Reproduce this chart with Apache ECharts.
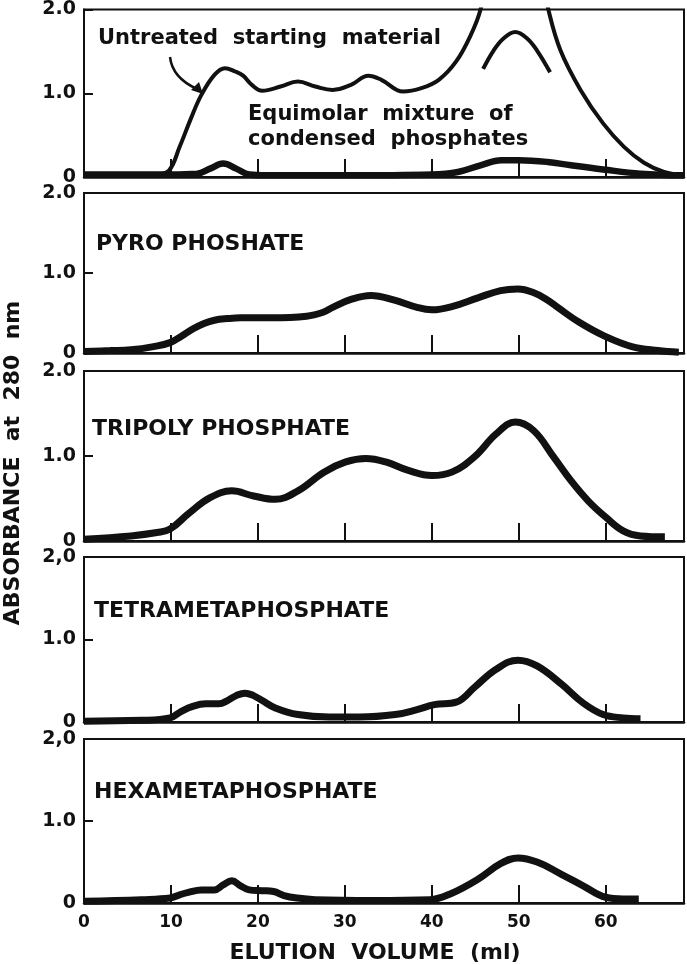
<!DOCTYPE html>
<html>
<head>
<meta charset="utf-8">
<script src="https://cdn.jsdelivr.net/npm/echarts@6/dist/echarts.min.js"></script>
<style>
  html, body { margin: 0; padding: 0; background: #fff; }
  #chart { width: 687px; height: 965px; }
</style>
</head>
<body>
<div id="chart"></div>
<script>
// Gel-filtration elution profiles (absorbance at 280 nm vs elution volume)

const VOL_MAX = 69;
const volTicks = [0, 10, 20, 30, 40, 50, 60];
const absTicksDot = ['0', '1.0', '2.0'];
const absTicksComma = ['0', '1.0', '2,0'];

// panel 1 — untreated starting material (goes off scale around 50 ml)
const untreatedVol = [0, 5, 8.5, 9.8, 11, 12.3, 13.5, 15, 16.2, 17.4, 18.3, 19.3, 20.5, 22.6, 24.6, 26.6, 28.6, 30.7, 32.7, 34.2, 36.7, 38.8, 40.8, 42.8, 44.5, 45.6, 47.5, 49.6, 51.5, 53.4, 54.8, 57.1, 59.7, 62.1, 64.4, 66.7, 69];
const untreatedAbs = [0.02, 0.02, 0.03, 0.08, 0.36, 0.70, 0.98, 1.22, 1.30, 1.26, 1.21, 1.10, 1.03, 1.08, 1.14, 1.08, 1.04, 1.10, 1.21, 1.16, 1.02, 1.06, 1.16, 1.38, 1.70, 2.0, 2.9, 3.4, 2.9, 2.0, 1.51, 1.04, 0.64, 0.36, 0.17, 0.06, 0.02];
// off-scale peak top redrawn inside the panel
const peakTopVol = [45.9, 47.1, 48.3, 49.6, 50.9, 52.1, 53.6];
const peakTopAbs = [1.29, 1.51, 1.66, 1.73, 1.66, 1.51, 1.25];
// panel 1 — equimolar mixture of condensed phosphates
const mixVol = [0, 5, 10, 13, 14.5, 16, 17.5, 19, 21, 30, 40, 43, 45.6, 48, 50, 53.3, 56, 59.7, 64, 69];
const mixAbs = [0.03, 0.03, 0.03, 0.04, 0.10, 0.16, 0.10, 0.03, 0.02, 0.02, 0.03, 0.06, 0.14, 0.20, 0.20, 0.18, 0.14, 0.09, 0.04, 0.02];

const pyroVol = [0, 3, 5.4, 8, 9.9, 11.2, 12.5, 13.8, 15, 16.5, 18, 21.5, 25.6, 27.5, 28.6, 30.7, 33, 35.7, 38.3, 40, 42.3, 45.3, 47.9, 49.9, 51.6, 53.2, 54.6, 57, 59.7, 63, 66, 68.4];
const pyroAbs = [0.02, 0.03, 0.04, 0.08, 0.13, 0.21, 0.30, 0.37, 0.41, 0.43, 0.44, 0.44, 0.46, 0.51, 0.57, 0.67, 0.72, 0.66, 0.57, 0.54, 0.58, 0.69, 0.78, 0.80, 0.76, 0.67, 0.56, 0.38, 0.22, 0.08, 0.03, 0.01];

const tripolyVol = [0, 5.4, 8.4, 9.9, 12, 14.5, 17, 19.5, 22, 24.6, 27.6, 30.1, 32.4, 34.7, 37.3, 40, 42.3, 44.9, 47.4, 49.6, 51.7, 54, 56, 58, 60, 62, 64, 66.8];
const tripolyAbs = [0.02, 0.06, 0.10, 0.14, 0.32, 0.51, 0.59, 0.53, 0.49, 0.59, 0.81, 0.93, 0.97, 0.93, 0.83, 0.77, 0.81, 0.99, 1.26, 1.40, 1.30, 0.99, 0.71, 0.47, 0.28, 0.12, 0.06, 0.05];

const tetraVol = [0, 6.6, 9.9, 11.2, 12.5, 14, 15.5, 16.5, 17.5, 18.5, 19.5, 20.5, 22, 24.6, 28.2, 31.7, 35.8, 38.3, 40.3, 42.8, 44.9, 47.4, 49.9, 52.1, 54.9, 57.4, 59.7, 62, 64];
const tetraAbs = [0.01, 0.02, 0.05, 0.13, 0.19, 0.22, 0.22, 0.26, 0.32, 0.35, 0.32, 0.26, 0.17, 0.09, 0.06, 0.06, 0.09, 0.15, 0.21, 0.24, 0.42, 0.64, 0.75, 0.68, 0.46, 0.23, 0.09, 0.05, 0.04];

const hexaVol = [0, 6.6, 9.9, 11, 12, 13.5, 15, 16, 17, 18, 19, 20.5, 21.8, 23, 24.5, 26.6, 33.2, 39.8, 42.3, 45.3, 47.9, 49.9, 52.1, 54.9, 57.4, 60, 62, 63.8];
const hexaAbs = [0.02, 0.04, 0.06, 0.10, 0.13, 0.16, 0.16, 0.22, 0.27, 0.21, 0.16, 0.15, 0.14, 0.09, 0.06, 0.04, 0.03, 0.04, 0.12, 0.29, 0.48, 0.55, 0.50, 0.35, 0.21, 0.07, 0.05, 0.05];

const FONT = '"DejaVu Sans", sans-serif';
const INK = '#111';

const zip = (xs, ys) => xs.map((x, i) => [x, ys[i]]);

// pixel boxes of the five stacked panels
const PANELS = [
  { top: 9,   height: 168, ticks: absTicksDot },
  { top: 193, height: 160, ticks: absTicksDot },
  { top: 371, height: 170, ticks: absTicksDot },
  { top: 557, height: 165, ticks: absTicksComma },
  { top: 739, height: 166, ticks: absTicksComma },
];

const grid = PANELS.map(p => ({
  left: 84, right: 3, top: p.top, height: p.height,
  show: true, borderColor: INK, borderWidth: 2, backgroundColor: 'transparent',
}));

const xAxis = PANELS.map((p, i) => {
  const last = i === PANELS.length - 1;
  return {
    gridIndex: i, type: 'value', min: 0, max: VOL_MAX, interval: 10,
    splitLine: { show: false },
    axisLine: { lineStyle: { color: INK, width: 2.5 } },
    axisTick: { inside: true, length: 18, lineStyle: { color: INK, width: 2 } },
    axisLabel: {
      show: last, margin: 11, color: INK, fontFamily: FONT, fontWeight: 'bold', fontSize: 17,
      showMaxLabel: false,
      formatter: v => (volTicks.includes(v) ? String(v) : ''),
    },
    name: last ? 'ELUTION  VOLUME  (ml)' : '',
    nameLocation: 'middle', nameGap: 39,
    nameTextStyle: { color: INK, fontFamily: FONT, fontWeight: 'bold', fontSize: 22, padding: [0, 18, 0, 0] },
  };
});

const yAxis = PANELS.map((p, i) => ({
  gridIndex: i, type: 'value', min: 0, max: 2, interval: 1,
  splitLine: { show: false },
  axisLine: { show: true, lineStyle: { color: INK, width: 2 } },
  axisTick: { show: true, inside: true, length: 9, lineStyle: { color: INK, width: 2 } },
  axisLabel: {
    margin: 8, color: INK, fontFamily: FONT, fontWeight: 'bold', fontSize: 19,
    padding: [6, 0, 0, 0],
    formatter: v => p.ticks[Math.round(v)],
  },
}));

function curve(idx, vol, abs, width) {
  return {
    type: 'line', xAxisIndex: idx, yAxisIndex: idx, data: zip(vol, abs),
    smooth: 0.4, symbol: 'none', clip: true, silent: true,
    lineStyle: { color: INK, width: width },
  };
}

const series = [
  curve(0, untreatedVol, untreatedAbs, 4),
  curve(0, peakTopVol, peakTopAbs, 4),
  curve(0, mixVol, mixAbs, 6.5),
  curve(1, pyroVol, pyroAbs, 7),
  curve(2, tripolyVol, tripolyAbs, 7),
  curve(3, tetraVol, tetraAbs, 7),
  curve(4, hexaVol, hexaAbs, 7),
];

const txt = (text, x, y, size, extra) => ({
  type: 'text', x: x, y: y, silent: true,
  style: Object.assign({
    text: text, fill: INK, font: 'bold ' + size + 'px ' + FONT,
    textAlign: 'left', textVerticalAlign: 'middle',
  }, extra || {}),
});

const graphic = [
  txt('Untreated  starting  material', 98, 38.5, 21),
  txt('Equimolar  mixture  of', 248, 114.5, 21),
  txt('condensed  phosphates', 248, 140, 21),
  txt('PYRO PHOSHATE', 96, 244.5, 22),
  txt('TRIPOLY PHOSPHATE', 92, 429, 22),
  txt('TETRAMETAPHOSPHATE', 94, 611, 22),
  txt('HEXAMETAPHOSPHATE', 94, 792, 22),
  {
    type: 'text', x: 13, y: 463, rotation: Math.PI / 2, silent: true,
    style: { text: 'ABSORBANCE  at  280  nm', fill: INK, font: 'bold 22px ' + FONT, textAlign: 'center', textVerticalAlign: 'middle' },
  },
  // arrow from the label to the untreated curve
  {
    type: 'bezierCurve', silent: true,
    shape: { x1: 170, y1: 57, cpx1: 172, cpy1: 75, cpx2: 186, cpy2: 84, x2: 197, y2: 89 },
    style: { stroke: INK, lineWidth: 2.5, fill: null },
  },
  {
    type: 'polygon', silent: true,
    shape: { points: [[203, 94], [191, 90], [199, 82]] },
    style: { fill: INK },
  },
];

const chart = echarts.init(document.getElementById('chart'), null, { renderer: 'canvas' });
chart.setOption({
  backgroundColor: '#fff',
  animation: false,
  grid, xAxis, yAxis, series, graphic,
});
</script>
</body>
</html>
